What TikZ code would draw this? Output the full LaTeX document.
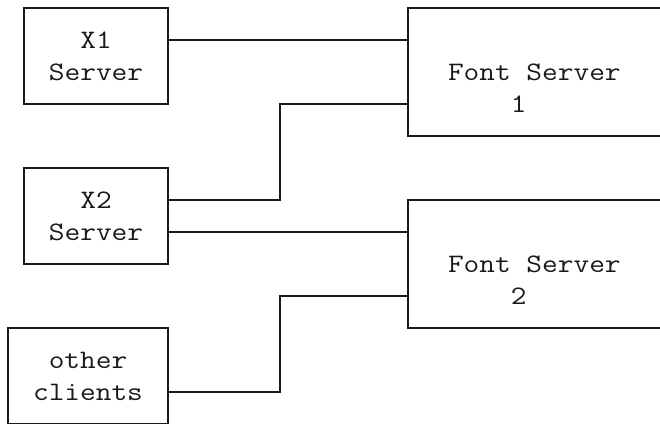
\documentclass[tikz,border=0pt]{standalone}
\usepackage{fontspec}
\setmonofont{Latin Modern Mono}[FakeStretch=1.143]
\usetikzlibrary{positioning}

\tikzset{
  srv/.style={draw, inner sep=0pt, outer sep=0pt, minimum width=108pt, minimum height=72pt,
    align=center, font=\ttfamily\fontsize{20pt}{24pt}\selectfont},
  fsbox/.style={draw, inner sep=0pt, outer sep=0pt, minimum width=240pt, minimum height=96pt},
  fstext/.style={inner sep=0pt, outer sep=0pt, align=left, font=\ttfamily\fontsize{20pt}{24pt}\selectfont},
}

\begin{document}
\begin{tikzpicture}[x=0.75pt, y=-0.75pt, line width=1.6pt, color=black!90]
\useasboundingbox (0,0) rectangle (660,424);

%% X servers and clients
\node[srv](x1) at (96,56) {X1\\Server};
\node[srv, below=48pt of x1](x2) {X2\\Server};
\node[srv, minimum width=120pt, below=48pt of x2, xshift=-6pt](oc) {other\\clients};

%% font servers
\node[fsbox, right=180pt of x1.north east, anchor=north west](fs1) {};
\node[fsbox, below=48pt of fs1](fs2) {};
\node[fstext, right=30pt of fs1.west, yshift=-12pt](fs1_txt) {Font Server\\\hphantom{Font}1};
\node[fstext, right=30pt of fs2.west, yshift=-12pt](fs2_txt) {Font Server\\\hphantom{Font}2};

%% connections
\coordinate (x1_out) at ([yshift=12pt]x1.east);
\coordinate (x2_out1) at ([yshift=12pt]x2.east);
\coordinate (x2_out2) at ([yshift=-12pt]x2.east);
\coordinate (oc_out) at ([yshift=-12pt]oc.east);
\coordinate (fs1_in) at ([yshift=-24pt]fs1.west);
\coordinate (fs2_in) at ([yshift=-24pt]fs2.west);

\draw (x1_out) -- (x1_out -| fs1.west);
\draw (x2_out1) -- ++(112,0) |- (fs1_in);
\draw (x2_out2) -- (x2_out2 -| fs2.west);
\draw (oc_out) -- ++(112,0) |- (fs2_in);

\end{tikzpicture}
\end{document}
